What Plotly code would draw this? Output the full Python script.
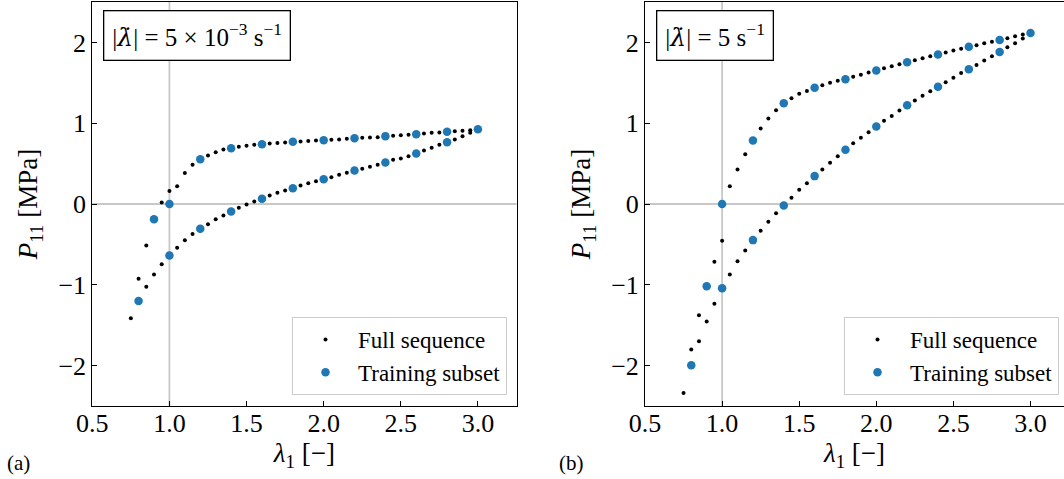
import plotly.graph_objects as go

# ---------------- data: panel (a), |lambda_dot| = 5e-3 1/s ----------------
lam_full_a = [1.00, 1.05, 1.10, 1.15, 1.20, 1.25, 1.30, 1.35, 1.40, 1.45, 1.50, 1.55, 1.60, 1.65, 1.70,
              1.75, 1.80, 1.85, 1.90, 1.95, 2.00, 2.05, 2.10, 2.15, 2.20, 2.25, 2.30, 2.35, 2.40, 2.45,
              2.50, 2.55, 2.60, 2.65, 2.70, 2.75, 2.80, 2.85, 2.90, 2.95, 3.00,
              2.95, 2.90, 2.85, 2.80, 2.75, 2.70, 2.65, 2.60, 2.55, 2.50, 2.45, 2.40, 2.35, 2.30, 2.25,
              2.20, 2.15, 2.10, 2.05, 2.00, 1.95, 1.90, 1.85, 1.80, 1.75, 1.70, 1.65, 1.60, 1.55, 1.50,
              1.45, 1.40, 1.35, 1.30, 1.25, 1.20, 1.15, 1.10, 1.05, 1.00, 0.95, 0.90, 0.85, 0.80, 0.75,
              0.80, 0.85, 0.90, 0.95, 1.00]
p_full_a = [0.000, 0.220, 0.385, 0.485, 0.555, 0.600, 0.640, 0.675, 0.690, 0.710, 0.720, 0.733, 0.740, 0.750, 0.755,
            0.760, 0.770, 0.775, 0.780, 0.785, 0.790, 0.794, 0.798, 0.807, 0.815, 0.820, 0.823, 0.827, 0.840, 0.844,
            0.852, 0.856, 0.864, 0.873, 0.881, 0.885, 0.893, 0.900, 0.906, 0.913, 0.926,
            0.881, 0.840, 0.798, 0.765, 0.733, 0.695, 0.662, 0.625, 0.592, 0.563, 0.547, 0.514, 0.485, 0.460, 0.436,
            0.415, 0.386, 0.361, 0.332, 0.307, 0.283, 0.258, 0.229, 0.196, 0.167, 0.138, 0.105, 0.064, 0.031, -0.006,
            -0.047, -0.093, -0.142, -0.190, -0.250, -0.307, -0.370, -0.450, -0.540, -0.637, -0.745, -0.873, -1.025, -1.200, -1.413,
            -0.926, -0.514, -0.190, 0.020, 0.160]
lam_train_a = [1.0, 1.2, 1.4, 1.6, 1.8, 2.0, 2.2, 2.4, 2.6, 2.8, 3.0,
               2.8, 2.6, 2.4, 2.2, 2.0, 1.8, 1.6, 1.4, 1.2, 1.0, 0.8, 0.9]
p_train_a = [0.000, 0.555, 0.690, 0.740, 0.770, 0.790, 0.815, 0.840, 0.864, 0.893, 0.926,
             0.765, 0.625, 0.514, 0.415, 0.307, 0.196, 0.064, -0.093, -0.307, -0.637, -1.200, -0.190]

# ---------------- data: panel (b), |lambda_dot| = 5 1/s ----------------
lam_full_b = lam_full_a
p_full_b = [0.000, 0.220, 0.427, 0.616, 0.786, 0.934, 1.058, 1.161, 1.248, 1.310, 1.364, 1.400, 1.438, 1.470, 1.500,
            1.525, 1.545, 1.574, 1.600, 1.627, 1.652, 1.680, 1.706, 1.730, 1.755, 1.780, 1.805, 1.830, 1.850, 1.875,
            1.900, 1.920, 1.945, 1.965, 1.990, 2.007, 2.030, 2.050, 2.077, 2.098, 2.115,
            2.048, 1.990, 1.940, 1.880, 1.830, 1.776, 1.720, 1.668, 1.620, 1.562, 1.507, 1.450, 1.396, 1.340, 1.280,
            1.223, 1.157, 1.090, 1.030, 0.959, 0.889, 0.820, 0.753, 0.670, 0.592, 0.510, 0.427, 0.345, 0.258, 0.175,
            0.077, -0.019, -0.113, -0.220, -0.330, -0.447, -0.575, -0.710, -0.873, -1.042, -1.235, -1.454, -1.700, -1.995, -2.340,
            -1.800, -1.376, -1.017, -0.716, -0.455]
lam_train_b = lam_train_a
p_train_b = [0.000, 0.786, 1.248, 1.438, 1.545, 1.652, 1.755, 1.850, 1.945, 2.030, 2.115,
             1.880, 1.668, 1.450, 1.223, 0.959, 0.670, 0.345, -0.019, -0.447, -1.042, -1.995, -1.017]

x_ticks = [0.5, 1.0, 1.5, 2.0, 2.5, 3.0]
x_tick_text = ["0.5", "1.0", "1.5", "2.0", "2.5", "3.0"]
y_ticks = [-2, -1, 0, 1, 2]
y_tick_text = ["\u22122", "\u22121", "0", "1", "2"]
ref_lambda = 1.0
ref_p = 0.0

labels = ["Full sequence", "Training subset"]
LAMDOT = '<span style="font-family:\'DejaVu Serif\'"><i>\u03bb\u0307</i></span>'
rate_texts = ["|" + LAMDOT + "| = 5 \u00d7 10<sup>\u22123</sup> s<sup>\u22121</sup>",
              "|" + LAMDOT + "| = 5 s<sup>\u22121</sup>"]

FONT = "Liberation Serif"
W, H = 1064, 479
BLUE = "#1f77b4"

fig = go.Figure()
for i, (lf, pf, lt, pt) in enumerate([(lam_full_a, p_full_a, lam_train_a, p_train_a),
                                       (lam_full_b, p_full_b, lam_train_b, p_train_b)]):
    xa = "x" if i == 0 else "x2"
    ya = "y" if i == 0 else "y2"
    lg = "legend" if i == 0 else "legend2"
    fig.add_trace(go.Scatter(x=lf, y=pf, mode="markers", name=labels[0], xaxis=xa, yaxis=ya, legend=lg,
                             marker=dict(color="black", size=4, line=dict(width=0))))
    fig.add_trace(go.Scatter(x=lt, y=pt, mode="markers", name=labels[1], xaxis=xa, yaxis=ya, legend=lg,
                             marker=dict(color=BLUE, size=8.5, line=dict(width=0))))

def px_x(p):
    return p / W

def px_y(p):
    return (H - p) / H

ydom = [px_y(406), px_y(2)]
axis_common = dict(showline=True, linecolor="black", linewidth=1, ticks="inside", ticklen=5,
                   tickcolor="black", tickwidth=1, showgrid=False, zeroline=False, automargin=False,
                   tickfont=dict(family=FONT, size=26, color="black"))
xtitle = dict(text="<i>\u03bb</i><sub>1</sub> [\u2212]", font=dict(family=FONT, size=27), standoff=4)
ytitle = dict(text="<i>P</i><sub>11</sub> [MPa]", font=dict(family=FONT, size=27), standoff=12)

fig.update_layout(
    width=W, height=H, margin=dict(l=0, r=0, t=0, b=0, autoexpand=False),
    paper_bgcolor="white", plot_bgcolor="white",
    font=dict(family=FONT, color="black"),
    xaxis=dict(domain=[px_x(92.3), px_x(516.5)], range=[0.5, 3.25], anchor="y", mirror=True,
               tickvals=x_ticks, ticktext=x_tick_text, title=xtitle, ticklabelstandoff=-6, **axis_common),
    yaxis=dict(domain=ydom, range=[-2.5, 2.5], anchor="x", mirror=True,
               tickvals=y_ticks, ticktext=y_tick_text, title=ytitle, **axis_common),
    xaxis2=dict(domain=[px_x(645), 1.0], range=[0.5, 0.5 + (W - 645) / 154.2], anchor="y2", mirror=True,
                tickvals=x_ticks, ticktext=x_tick_text, title=xtitle, ticklabelstandoff=-6, **axis_common),
    yaxis2=dict(domain=ydom, range=[-2.5, 2.5], anchor="x2", mirror=False,
                tickvals=y_ticks, ticktext=y_tick_text, title=ytitle, **axis_common),
    legend=dict(x=px_x(507), y=px_y(395), xanchor="right", yanchor="bottom",
                bgcolor="rgba(255,255,255,0.8)", bordercolor="#cccccc", borderwidth=1,
                itemwidth=55, font=dict(family=FONT, size=23, color="black")),
    legend2=dict(x=px_x(1059), y=px_y(395), xanchor="right", yanchor="bottom",
                 bgcolor="rgba(255,255,255,0.8)", bordercolor="#cccccc", borderwidth=1,
                 itemwidth=55, font=dict(family=FONT, size=23, color="black")),
    showlegend=True,
)

# reference lines at lambda = 1 and P = 0
for xa, ya in [("x", "y"), ("x2", "y2")]:
    fig.add_shape(type="line", xref=xa, yref=f"{ya} domain", x0=ref_lambda, x1=ref_lambda, y0=0, y1=1,
                  line=dict(color="#c8c8c8", width=1.8), layer="below")
    fig.add_shape(type="line", xref=f"{xa} domain", yref=ya, x0=0, x1=1, y0=ref_p, y1=ref_p,
                  line=dict(color="#c8c8c8", width=1.8), layer="below")

# rate boxes
for x0, txt in [(102.7, rate_texts[0]), (655.7, rate_texts[1])]:
    fig.add_annotation(xref="paper", yref="paper", x=px_x(x0), y=px_y(10), xanchor="left", yanchor="top",
                       text=txt, showarrow=False, font=dict(family=FONT, size=25, color="black"),
                       bordercolor="black", borderwidth=1.3, borderpad=8, bgcolor="white")

# panel labels
for xc, txt in [(18, "(a)"), (571, "(b)")]:
    fig.add_annotation(xref="paper", yref="paper", x=px_x(xc), y=px_y(463), xanchor="center", yanchor="middle",
                       text=txt, showarrow=False, font=dict(family=FONT, size=21, color="black"))

fig.write_html("out.html")
